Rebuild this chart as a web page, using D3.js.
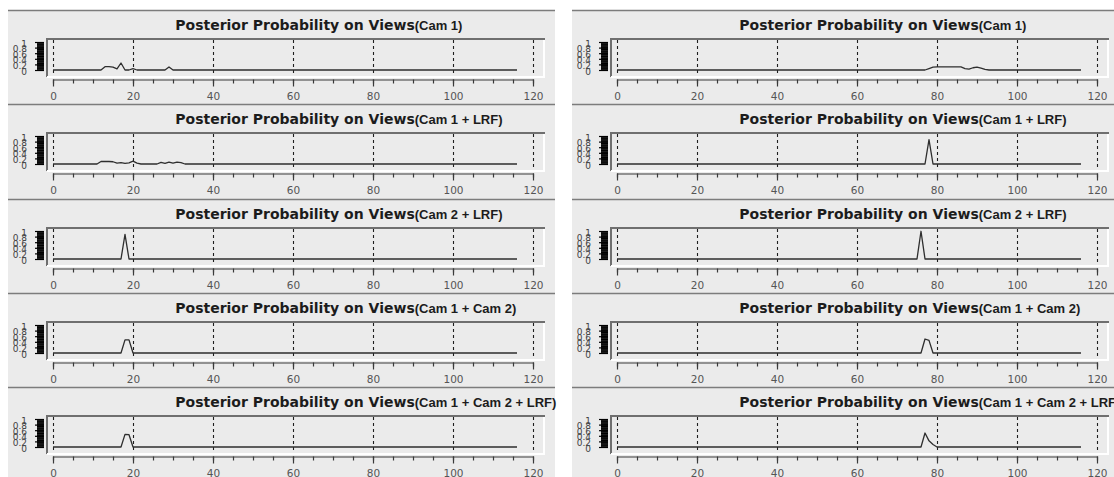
<!DOCTYPE html>
<html>
<head>
<meta charset="utf-8">
<script src="https://cdn.jsdelivr.net/npm/d3@7"></script>
<style>
  html, body { margin: 0; padding: 0; background: #ffffff; }
  svg { display: block; }
</style>
</head>
<body>
<svg id="chart" width="1114" height="477"></svg>
<script>
// Axis ticks
const viewTicks = [0, 20, 40, 60, 80, 100, 120];
const probTicks = [0, 0.2, 0.4, 0.6, 0.8, 1];

// Panel titles
const mainTitle = "Posterior Probability on Views";
const sensorSets = ["(Cam 1)", "(Cam 1 + LRF)", "(Cam 2 + LRF)", "(Cam 1 + Cam 2)", "(Cam 1 + Cam 2 + LRF)"];

// Posterior probability per view, as [view, probability] vertices of the curve
// (the curve stays at 0 between consecutive vertices at 0).
// Run A: object near view 18
const runA_cam1 = [[0,0],[12,0],[13,0.12],[14,0.12],[15,0.1],[16,0.04],[17,0.25],[18,0],[19,0],[20,0.05],[21,0],[28,0],[29,0.11],[30,0],[116,0]];
const runA_cam1Lrf = [[0,0],[11,0],[12,0.09],[13,0.09],[14,0.09],[15,0.08],[16,0.03],[17,0.05],[18,0.02],[19,0.04],[20,0.1],[21,0.03],[22,0],[26,0],[27,0.06],[28,0.02],[29,0.07],[30,0.03],[31,0.07],[32,0.05],[33,0],[116,0]];
const runA_cam2Lrf = [[0,0],[17,0],[18,0.88],[19,0],[116,0]];
const runA_cam1Cam2 = [[0,0],[17,0],[18,0.47],[19,0.47],[20,0],[116,0]];
const runA_all = [[0,0],[17,0],[18,0.45],[19,0.44],[20,0],[116,0]];

// Run B: object near view 77
const runB_cam1 = [[0,0],[77,0],[78,0.05],[79,0.1],[80,0.11],[86,0.11],[87,0.05],[88,0.03],[89,0.08],[90,0.1],[91,0.07],[92,0.02],[93,0],[116,0]];
const runB_cam1Lrf = [[0,0],[77,0],[78,0.87],[79,0],[116,0]];
const runB_cam2Lrf = [[0,0],[75,0],[76,0.99],[77,0],[116,0]];
const runB_cam1Cam2 = [[0,0],[76,0],[77,0.5],[78,0.45],[79,0],[116,0]];
const runB_all = [[0,0],[76,0],[77,0.5],[78,0.22],[79,0.09],[80,0],[116,0]];

const runs = [
  [runA_cam1, runA_cam1Lrf, runA_cam2Lrf, runA_cam1Cam2, runA_all],
  [runB_cam1, runB_cam1Lrf, runB_cam2Lrf, runB_cam1Cam2, runB_all]
];

const svg = d3.select("#chart");
svg.append("rect").attr("width", 1114).attr("height", 477).attr("fill", "#ffffff");

const figureOffset = 564;
const panelStep = 94.3;

runs.forEach((series, col) => {
  const ox = col * figureOffset;
  const x = d3.scaleLinear().domain([0, 120]).range([ox + 53, ox + 533]);

  series.forEach((pts, i) => {
    const t = Math.round(10 + i * panelStep);
    const y = d3.scaleLinear().domain([0, 1]).range([t + 60, t + 32]);
    const g = svg.append("g");

    // panel background and separator
    g.append("rect")
      .attr("x", ox + 8).attr("y", t)
      .attr("width", 547).attr("height", 96)
      .attr("fill", "#ebebeb");
    g.append("line")
      .attr("x1", ox + 8).attr("x2", ox + 555)
      .attr("y1", t + 0.5).attr("y2", t + 0.5)
      .attr("stroke", "#7c7c7c").attr("stroke-width", 1.5);

    // title: main text centred over the plot, sensor set appended
    const cx = ox + 295;
    const title = g.append("text")
      .attr("y", t + 20)
      .attr("fill", "#1c1c1c");
    title.append("tspan")
      .attr("font-family", "DejaVu Sans")
      .attr("font-weight", "bold")
      .attr("font-size", 14)
      .text(mainTitle);
    const mainLen = title.node().getComputedTextLength();
    title.attr("x", cx - mainLen / 2);
    title.append("tspan")
      .attr("font-family", "Liberation Sans")
      .attr("font-weight", "bold")
      .attr("font-size", 13)
      .text(sensorSets[i]);

    // plot frame (lowered bevel)
    const bx0 = ox + 47, bx1 = ox + 545, by0 = t + 29, by1 = t + 67;
    g.append("path")
      .attr("d", `M${bx0},${by1} L${bx0},${by0} L${bx1},${by0}`)
      .attr("fill", "none").attr("stroke", "#6f6f6f").attr("stroke-width", 2);
    g.append("path")
      .attr("d", `M${bx1 - 1},${by0 + 1} L${bx1 - 1},${by1} L${bx0},${by1}`)
      .attr("fill", "none").attr("stroke", "#ffffff").attr("stroke-width", 2);

    // dashed vertical grid
    g.selectAll("line.grid")
      .data(viewTicks)
      .join("line")
      .attr("class", "grid")
      .attr("x1", d => Math.round(x(d)) + 0.5).attr("x2", d => Math.round(x(d)) + 0.5)
      .attr("y1", by0 + 1).attr("y2", by1 - 1)
      .attr("stroke", "#1e1e1e").attr("stroke-width", 1.1)
      .attr("stroke-dasharray", "3,3");

    // posterior curve
    g.append("path")
      .datum(pts)
      .attr("d", d3.line().x(d => x(d[0])).y(d => y(d[1])))
      .attr("fill", "none")
      .attr("stroke", "#2e2e2e")
      .attr("stroke-width", 1.3)
      .attr("stroke-linejoin", "round");

    // y axis: dense minor ticks plus labelled majors
    const yMinor = g.append("g")
      .attr("transform", `translate(${ox + 44},0)`)
      .call(d3.axisLeft(y).tickValues(d3.range(0, 1.0001, 0.025)).tickSize(7).tickFormat(""));
    yMinor.select(".domain").remove();
    yMinor.selectAll("line").attr("stroke", "#000").attr("stroke-width", 1);
    const yMajor = g.append("g")
      .attr("transform", `translate(${ox + 44},0)`)
      .call(d3.axisLeft(y).tickValues(probTicks).tickSize(9).tickPadding(8)
        .tickFormat(d => d === 0 ? "0" : d === 1 ? "1" : d3.format(".1f")(d)));
    yMajor.select(".domain").remove();
    yMajor.selectAll("line").attr("stroke", "#000").attr("stroke-width", 1.2);
    yMajor.selectAll("text")
      .attr("font-family", "DejaVu Sans")
      .attr("font-size", 9)
      .attr("fill", "#444")
      .attr("dy", "0.45em");

    // x axis: minor ticks every 5 views, labelled majors every 20
    const ax = t + 69.5;
    const xMinor = g.append("g")
      .attr("transform", `translate(0,${ax})`)
      .call(d3.axisBottom(x).tickValues(d3.range(0, 121, 5)).tickSize(4).tickSizeOuter(0).tickFormat(""));
    xMinor.select(".domain").attr("stroke", "#3a3a3a").attr("stroke-width", 1.2);
    xMinor.selectAll("line").attr("stroke", "#3a3a3a").attr("stroke-width", 1.2);
    const xMajor = g.append("g")
      .attr("transform", `translate(0,${ax})`)
      .call(d3.axisBottom(x).tickValues(viewTicks).tickSize(7).tickSizeOuter(0).tickPadding(6));
    xMajor.select(".domain").remove();
    xMajor.selectAll("line").attr("stroke", "#3a3a3a").attr("stroke-width", 1.2);
    xMajor.selectAll("text")
      .attr("font-family", "DejaVu Sans")
      .attr("font-size", 10.5)
      .attr("fill", "#555");
  });
});
</script>
</body>
</html>
